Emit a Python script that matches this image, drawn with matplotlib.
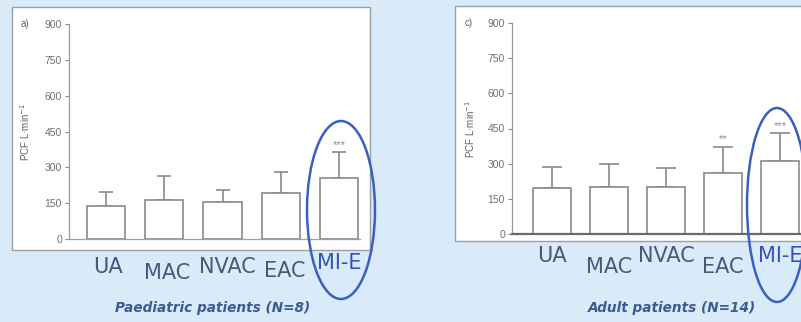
import matplotlib
matplotlib.use("Agg")
import matplotlib.pyplot as plt
from matplotlib.patches import Rectangle, Ellipse
import matplotlib.transforms as mtransforms

categories = ["UA", "MAC", "NVAC", "EAC", "MI-E"]
paed_means = [138, 163, 155, 192, 255]
paed_sd = [59, 101, 50, 89, 109]
paed_sig = ["", "", "", "", "***"]
adult_means = [195, 199, 200, 261, 313]
adult_sd = [91, 98, 83, 111, 116]
adult_sig = ["", "", "", "**", "***"]
yticks = [0, 150, 300, 450, 600, 750, 900]

W, H = 801, 322
fig = plt.figure(figsize=(W / 100, H / 100), dpi=100)
fig.patch.set_facecolor("#d9ebf9")
plt.rcParams["font.family"] = ["Liberation Sans", "DejaVu Sans"]

def px(x0, y0, x1, y1):
    return [x0 / W, 1 - y1 / H, (x1 - x0) / W, (y1 - y0) / H]

# white panels
for (x0, y0, x1, y1) in [(12, 7, 370, 250), (455, 6, 805, 241)]:
    fig.patches.append(Rectangle((x0 / W, 1 - y1 / H), (x1 - x0) / W, (y1 - y0) / H,
                                 transform=fig.transFigure, facecolor="white",
                                 edgecolor="#9aa0a8", lw=1.0, zorder=-5))

label_col = "#4a5878"
hl_col = "#3552b8"

def panel(rect, means, sd, sig, xl, label_offsets, label_xshift, letter, base_col, base_lw, cap, lpad):
    ax = fig.add_axes(rect)
    ax.set_zorder(1)
    ax.set_facecolor("none")
    x = list(range(len(categories)))
    ax.bar(x, means, width=0.66, color="white", edgecolor="#8a8a8a", lw=1.2, zorder=2)
    ax.errorbar(x, means, yerr=[[0] * len(sd), sd], fmt="none", ecolor="#8a8a8a",
                elinewidth=1.2, capsize=cap, capthick=1.2, zorder=1)
    for xi, m, s, t in zip(x, means, sd, sig):
        if t:
            ax.text(xi, m + s + 10, t, ha="center", va="bottom", fontsize=8,
                    color="#8a8a8a")
    ax.set_ylim(0, 900)
    ax.set_xlim(*xl)
    ax.set_yticks(yticks)
    ax.tick_params(axis="y", labelsize=7.5, colors="#8a8a8a", length=3, width=0.8, pad=2)
    for lab in ax.get_yticklabels():
        lab.set_color("#707070")
    ax.set_xticks([])
    for s in ["top", "right"]:
        ax.spines[s].set_visible(False)
    ax.spines["left"].set_color("#9a9a9a")
    ax.spines["left"].set_linewidth(0.9)
    ax.spines["bottom"].set_color(base_col)
    ax.spines["bottom"].set_linewidth(base_lw)
    ax.set_ylabel("PCF L·min$^{-1}$", fontsize=7, color="#606060", labelpad=lpad)
    ax.text(-0.15, 1.0, letter, transform=ax.transAxes, fontsize=7,
            color="#606060", ha="center", va="center")
    trans = mtransforms.blended_transform_factory(ax.transData, fig.transFigure)
    for xi, cat, yo, xs in zip(x, categories, label_offsets, label_xshift):
        col = hl_col if cat == "MI-E" else label_col
        ax.text(xi + xs, 1 - yo / H, cat, transform=trans, ha="center", va="center",
                fontsize=15, color=col, clip_on=False, family="DejaVu Sans")
    return ax

ax1 = panel(px(69, 24, 360, 239), paed_means, paed_sd, paed_sig, (-0.635, 4.36),
            [267, 273, 267, 271, 263], [0.03, 0.05, 0.08, 0.07, 0.0], "a)", "#a0a0a0", 0.9, 5, 9)
ax2 = panel(px(512, 23, 801, 234), adult_means, adult_sd, adult_sig, (-0.70, 4.37),
            [256, 267, 256, 267, 256], [0.0, 0.0, 0.0, 0.0, 0.0], "c)", "#6a6a6a", 1.6, 7, 8)

# highlight ellipses
for (cx, cy, w, h) in [(341, 210, 68, 178), (777, 205, 60, 194)]:
    fig.patches.append(Ellipse((cx / W, 1 - cy / H), w / W, h / H, transform=fig.transFigure,
                               fill=False, edgecolor="#3a5fc2", lw=1.8, zorder=5))

fig.text(213 / W, 1 - 308 / H, "Paediatric patients (N=8)", ha="center", va="center",
         fontsize=9.8, style="italic", weight="bold", color="#3d5a92", family="DejaVu Sans")
fig.text(672 / W, 1 - 308 / H, "Adult patients (N=14)", ha="center", va="center",
         fontsize=9.8, style="italic", weight="bold", color="#3d5a92", family="DejaVu Sans")

fig.savefig("out.png", dpi=100, facecolor=fig.get_facecolor())
